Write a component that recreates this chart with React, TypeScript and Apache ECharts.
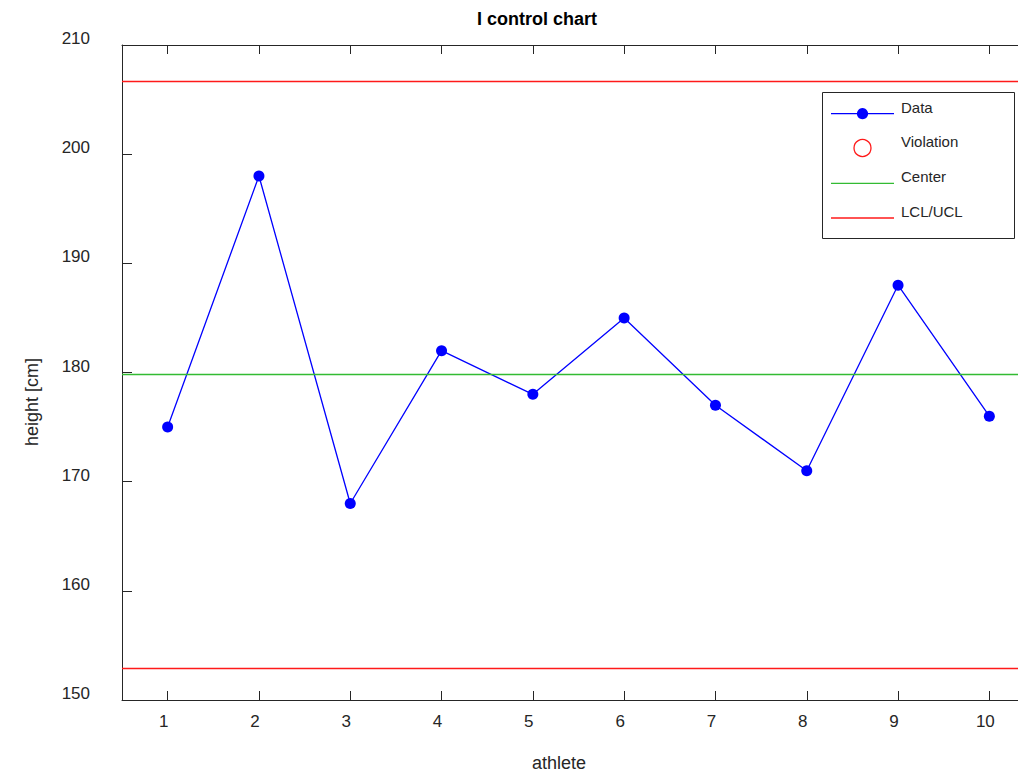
import React, { useEffect, useRef } from "react";
import * as echarts from "echarts";

// Athlete heights for an individuals (I) control chart
const athletes = ["1", "2", "3", "4", "5", "6", "7", "8", "9", "10"];
const heights = [175, 198, 168, 182, 178, 185, 177, 171, 188, 176];
const centerValue = 179.8;
const ucl = 206.67;
const lcl = 152.93;
const yTicks = { min: 150, max: 210, interval: 10 };

const FONT = "'Liberation Sans', Arial, Helvetica, sans-serif";
const INK = "#262626";
const BLUE = "#0000ff";
const GREEN = "#33bb33";
const RED = "#ff1a1a";

export default function App() {
  const ref = useRef<HTMLDivElement>(null);

  useEffect(() => {
    if (!ref.current) return;
    const chart = echarts.init(ref.current, undefined, { renderer: "svg" });

    const violations = heights
      .map((v, i) => (v > ucl || v < lcl ? [athletes[i], v] : null))
      .filter((d) => d !== null);

    const legendItems = [
      { label: "Data", y: 113.7 },
      { label: "Violation", y: 148 },
      { label: "Center", y: 183.3 },
      { label: "LCL/UCL", y: 218 },
    ];

    const legendGraphics: any[] = [
      {
        type: "rect",
        shape: { x: 822.5, y: 92.5, width: 192, height: 146 },
        style: { fill: "#fff", stroke: INK, lineWidth: 1 },
        z: 100,
      },
      {
        type: "line",
        shape: { x1: 831, y1: 113.7, x2: 894, y2: 113.7 },
        style: { stroke: BLUE, lineWidth: 1.3 },
        z: 101,
      },
      {
        type: "circle",
        shape: { cx: 862.5, cy: 113.7, r: 5.6 },
        style: { fill: BLUE },
        z: 101,
      },
      {
        type: "circle",
        shape: { cx: 862.5, cy: 148, r: 8.5 },
        style: { fill: "none", stroke: RED, lineWidth: 1.3 },
        z: 101,
      },
      {
        type: "line",
        shape: { x1: 831, y1: 183.3, x2: 894, y2: 183.3 },
        style: { stroke: GREEN, lineWidth: 1.3 },
        z: 101,
      },
      {
        type: "line",
        shape: { x1: 831, y1: 218, x2: 894, y2: 218 },
        style: { stroke: RED, lineWidth: 1.3 },
        z: 101,
      },
      ...legendItems.map((it) => ({
        type: "text",
        x: 901,
        y: it.y - 6.5,
        style: {
          text: it.label,
          fontFamily: FONT,
          fontSize: 15,
          fill: INK,
          textAlign: "left",
          textVerticalAlign: "middle",
        },
        z: 101,
      })),
    ];

    const catAxis = (position: "top" | "bottom", showLabels: boolean) => ({
      type: "category",
      data: athletes,
      boundaryGap: true,
      position,
      axisLine: { show: true, lineStyle: { color: INK, width: 1 } },
      axisTick: {
        show: true,
        inside: true,
        length: 9,
        alignWithLabel: true,
        lineStyle: { color: INK },
      },
      axisLabel: {
        show: showLabels,
        color: INK,
        fontSize: 17,
        fontFamily: FONT,
        margin: 13,
        padding: [0, 8, 0, 0],
      },
      splitLine: { show: false },
    });

    chart.setOption({
      animation: false,
      backgroundColor: "#fff",
      textStyle: { fontFamily: FONT },
      grid: { left: 122, top: 45, width: 913, height: 655 },
      xAxis: [catAxis("bottom", true), catAxis("top", false)],
      yAxis: {
        type: "value",
        min: yTicks.min,
        max: yTicks.max,
        interval: yTicks.interval,
        axisLine: { show: true, lineStyle: { color: INK, width: 1 } },
        axisTick: {
          show: true,
          inside: true,
          length: 10,
          lineStyle: { color: INK },
        },
        axisLabel: {
          color: INK,
          fontSize: 17,
          fontFamily: FONT,
          margin: 32,
          verticalAlign: "bottom",
          lineHeight: 13,
        },
        splitLine: { show: false },
      },
      series: [
        {
          name: "Limits",
          type: "line",
          data: [],
          silent: true,
          markLine: {
            silent: true,
            symbol: "none",
            label: { show: false },
            lineStyle: { type: "solid", width: 1.3 },
            data: [
              { yAxis: ucl, lineStyle: { color: RED, type: "solid", width: 1.3 } },
              { yAxis: lcl, lineStyle: { color: RED, type: "solid", width: 1.3 } },
              {
                yAxis: centerValue,
                lineStyle: { color: GREEN, type: "solid", width: 1.3 },
              },
            ],
          },
        },
        {
          name: "Data",
          type: "line",
          data: heights,
          symbol: "circle",
          symbolSize: 11,
          showAllSymbol: true,
          lineStyle: { color: BLUE, width: 1.3 },
          itemStyle: { color: BLUE },
          silent: true,
        },
        {
          name: "Violation",
          type: "scatter",
          data: violations,
          symbol: "circle",
          symbolSize: 17,
          itemStyle: { color: "none", borderColor: RED, borderWidth: 1.3 },
        },
      ],
      graphic: [
        {
          type: "text",
          x: 537,
          y: 19,
          style: {
            text: "I control chart",
            fontFamily: FONT,
            fontSize: 18,
            fontWeight: "bold",
            fill: "#000",
            textAlign: "center",
            textVerticalAlign: "middle",
          },
        },
        {
          type: "text",
          x: 559,
          y: 763,
          style: {
            text: "athlete",
            fontFamily: FONT,
            fontSize: 18,
            fill: INK,
            textAlign: "center",
            textVerticalAlign: "middle",
          },
        },
        {
          type: "text",
          x: 32,
          y: 402,
          rotation: Math.PI / 2,
          style: {
            text: "height [cm]",
            fontFamily: FONT,
            fontSize: 18,
            fill: INK,
            textAlign: "center",
            textVerticalAlign: "middle",
          },
        },
        ...legendGraphics,
      ],
    });

    return () => chart.dispose();
  }, []);

  // The plot box runs past the right edge, so the chart is wider than the
  // visible frame and the overflow is clipped.
  return (
    <div
      style={{
        position: "absolute",
        left: 0,
        top: 0,
        width: 1018,
        height: 772,
        overflow: "hidden",
      }}
    >
      <div ref={ref} style={{ width: 1035, height: 772 }} />
    </div>
  );
}
